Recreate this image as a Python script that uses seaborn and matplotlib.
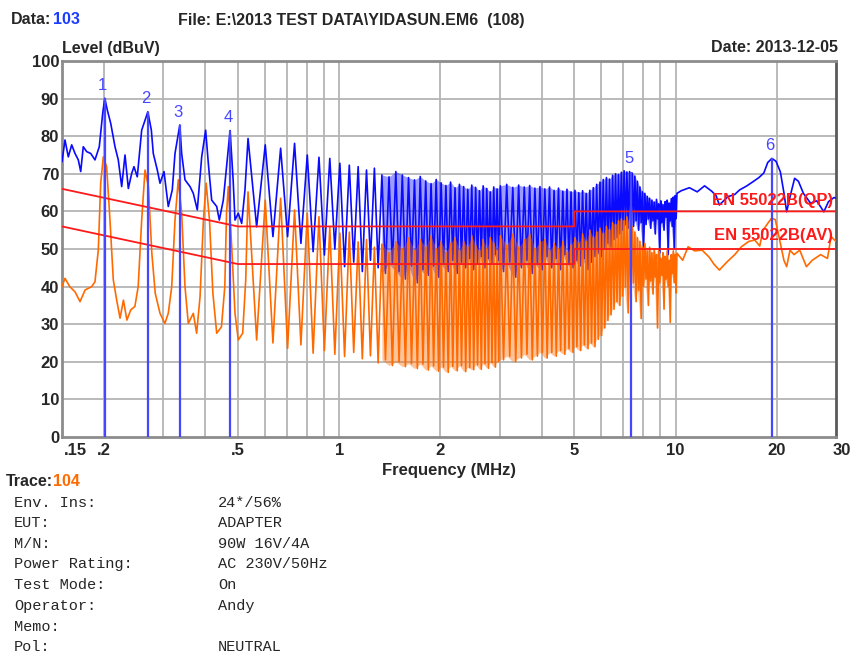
import matplotlib
matplotlib.use("Agg")
import matplotlib.pyplot as plt
import matplotlib.transforms as mtrans
import numpy as np
import pandas as pd
import seaborn as sns

sns.set_style("white")
plt.rcParams["font.family"] = ["Liberation Sans Narrow", "Liberation Sans", "DejaVu Sans"]

# ---- scan data (conducted emission, neutral) ----
# low band, before the harmonics merge: (MHz, dBuV)
QP_LOW_FREQ = [0.150, 0.1531, 0.1566, 0.1603, 0.1640, 0.1677, 0.1705, 0.1735, 0.1776, 0.1826,
               0.1880, 0.1936, 0.1982, 0.2010, 0.2045, 0.2094, 0.2156, 0.2205, 0.2257, 0.2309,
               0.2362, 0.2417, 0.2455, 0.2511, 0.2588, 0.2700, 0.2765, 0.2802, 0.2880, 0.2934,
               0.3015, 0.3105, 0.3191, 0.3251, 0.3360, 0.3403, 0.3481, 0.3603, 0.3685, 0.3787,
               0.3903, 0.4010, 0.4084, 0.4179, 0.4325, 0.4403, 0.4525, 0.4740, 0.4840, 0.4902,
               0.5014, 0.5132, 0.5249]
QP_LOW_LEVEL = [73.2, 79.0, 74.5, 77.7, 75.4, 73.7, 70.6, 77.2, 75.9, 75.4,
                73.7, 77.2, 86.1, 90.1, 87.0, 83.4, 77.2, 73.7, 66.6, 75.0,
                66.1, 70.1, 71.9, 69.2, 81.6, 86.5, 81.6, 75.4, 71.0, 67.5,
                70.6, 61.3, 65.7, 75.4, 83.0, 75.4, 68.4, 66.6, 64.8, 60.4,
                74.5, 81.6, 72.8, 63.0, 61.3, 57.7, 63.0, 81.5, 68.4, 57.7,
                59.5, 56.8, 65.7]
AV_LOW_FREQ = [0.150, 0.1531, 0.1582, 0.1640, 0.1697, 0.1757, 0.1838, 0.1880, 0.1923, 0.1955,
               0.1990, 0.2036, 0.2083, 0.2131, 0.2181, 0.2232, 0.2284, 0.2339, 0.2401, 0.2470,
               0.2527, 0.2588, 0.2648, 0.2710, 0.2774, 0.2840, 0.2934, 0.3033, 0.3105, 0.3179,
               0.3251, 0.3325, 0.3403, 0.3481, 0.3561, 0.3685, 0.3770, 0.3859, 0.3949, 0.4024,
               0.4117, 0.4214, 0.4325, 0.4468, 0.4572, 0.4626, 0.4683, 0.4793, 0.4902, 0.5014,
               0.5167, 0.5276]
AV_LOW_LEVEL = [40.0, 42.2, 40.0, 38.6, 36.0, 39.1, 40.0, 41.3, 49.7, 67.5,
                74.5, 71.9, 57.7, 41.8, 36.4, 31.6, 36.4, 31.1, 33.8, 34.7,
                40.0, 57.7, 71.0, 66.6, 48.9, 38.2, 32.9, 30.2, 32.9, 40.0,
                57.7, 68.4, 59.5, 40.0, 30.2, 32.9, 27.6, 37.3, 57.7, 67.5,
                57.7, 38.2, 27.6, 29.3, 40.0, 59.5, 66.6, 50.6, 32.9, 25.8,
                27.6, 41.8]

# switching harmonics, 0.5 - 10 MHz (every one up to 3 MHz, then every other one)
SW_FREQ = 0.067  # MHz
HARMONICS = list(range(8, 45)) + list(range(45, 150, 2))
QP_HARM_PEAK = [79.4, 77.7, 76.8, 78.1, 75.0, 74.4, 74.1, 72.8, 72.3, 71.9,
                71.0, 71.5, 69.7, 69.2, 70.6, 69.7, 69.0, 68.4, 69.3, 68.1,
                67.4, 68.5, 67.6, 66.9, 67.8, 66.3, 67.2, 66.6, 65.9, 67.0,
                66.4, 65.5, 66.8, 66.1, 65.2, 66.5, 66.0,
                66.8, 67.2, 66.4, 67.0, 66.5, 66.9, 66.2, 66.6, 66.0, 66.5,
                65.6, 66.2, 65.4, 65.9, 65.2, 65.6, 65.0, 65.5, 64.8, 65.6,
                66.3, 67.2, 67.8, 68.5, 69.0, 68.6, 69.6, 70.0, 69.8, 70.4,
                70.8, 70.5, 70.6, 70.2, 69.4, 68.0, 66.5, 65.2, 64.8, 64.0,
                63.5, 63.0, 62.5, 63.2, 62.0, 62.8, 61.8, 62.6, 63.0, 62.2,
                63.4, 63.8, 64.2]
QP_HARM_DIP = [55.9, 53.3, 53.3, 51.5, 49.3, 48.4, 50.0, 45.3, 46.5, 44.0,
               47.0, 45.0, 43.5, 46.0, 44.0, 42.0, 45.5, 41.0, 44.5, 43.0,
               45.5, 42.5, 46.0, 44.0, 47.0, 43.5, 46.5, 45.0, 47.5, 44.5,
               46.0, 48.0, 45.0, 47.5, 46.0, 48.5, 47.0,
               44.0, 46.5, 42.5, 45.0, 47.0, 43.5, 46.0, 44.5, 48.0, 45.0,
               47.5, 44.5, 48.5, 46.0, 45.0, 47.0, 45.5, 47.5, 44.5, 46.5,
               48.0, 49.0, 48.0, 50.0, 51.5, 50.5, 52.5, 53.0, 54.0, 55.0,
               56.5, 55.5, 57.0, 56.0, 57.5, 55.0, 57.0, 50.5, 56.5, 58.0,
               55.5, 57.5, 54.0, 58.0, 49.0, 57.0, 55.0, 58.5, 48.5, 57.5,
               56.0, 50.0, 58.0]
AV_HARM_PEAK = [65.2, 63.0, 63.5, 60.4, 59.5, 58.6, 55.9, 54.2, 54.5, 51.9,
                52.5, 50.5, 51.3, 49.0, 52.0, 50.0, 53.0, 49.5, 52.5, 50.5,
                53.5, 50.0, 52.0, 49.0, 51.5, 53.0, 49.5, 52.0, 50.5, 53.5,
                51.0, 49.5, 52.5, 50.0, 53.0, 51.5, 49.5,
                53.5, 51.0, 54.0, 50.5, 52.5, 54.0, 50.0, 52.0, 52.5, 49.5,
                51.5, 50.0, 52.0, 49.0, 51.0, 53.0, 51.5, 54.0, 52.0, 55.0,
                53.0, 54.5, 55.5, 54.0, 56.0, 55.0, 57.0, 56.5, 57.5, 58.0,
                57.5, 58.5, 57.0, 56.0, 54.5, 53.0, 52.0, 50.5, 51.5, 49.5,
                50.5, 49.0, 50.0, 48.5, 49.5, 47.5, 49.0, 48.0, 49.5, 47.0,
                48.5, 49.5, 48.5]
AV_HARM_DIP = [25.8, 25.0, 23.6, 24.5, 22.3, 23.0, 22.0, 21.4, 22.5, 20.8,
               21.6, 19.7, 20.5, 19.0, 20.0, 18.7, 19.5, 18.2, 19.4, 17.8,
               18.9, 17.5, 18.6, 17.2, 18.8, 17.6, 19.0, 17.4, 18.5, 17.9,
               19.2, 18.0, 19.5, 18.3, 19.8, 18.6, 20.0,
               20.5, 21.5, 20.0, 21.0, 22.0, 20.5, 21.5, 22.5, 21.0, 22.5,
               21.5, 23.0, 22.0, 23.5, 22.5, 24.0, 23.0, 24.5, 23.5, 25.0,
               24.0, 26.0, 27.0, 29.0, 31.0, 32.5, 34.0, 36.0, 35.0, 37.5,
               40.0, 33.0, 38.5, 41.0, 36.0, 39.0, 31.5, 40.0, 42.0, 35.0,
               41.5, 38.0, 42.5, 29.0, 41.0, 43.0, 34.0, 42.0, 40.0, 30.5,
               43.5, 41.0, 44.0]

# above 10 MHz the traces are smooth again
QP_HIGH_FREQ = [10.05, 10.1, 10.4, 11.0, 11.6, 12.2, 12.8, 13.2, 13.5, 14.3,
                15.0, 15.5, 16.3, 17.0, 17.7, 18.3, 18.8, 19.35, 19.9, 20.5,
                21.0, 21.4, 21.9, 22.6, 23.2, 24.0, 25.2, 26.3, 27.6, 28.5,
                29.6, 30.0]
QP_HIGH_LEVEL = [58.6, 64.8, 65.5, 66.3, 65.2, 66.8, 65.4, 64.2, 61.7, 63.9,
                 64.5, 65.7, 66.8, 67.9, 69.0, 70.2, 73.0, 74.1, 73.3, 70.5,
                 65.0, 59.9, 63.9, 68.8, 68.0, 64.8, 62.2, 62.8, 59.9, 62.6,
                 63.7, 63.5]
AV_HIGH_FREQ = [10.05, 10.1, 10.5, 10.9, 11.4, 12.0, 12.6, 13.0, 13.5, 14.2,
                15.0, 15.7, 16.5, 17.2, 17.8, 18.2, 18.8, 19.3, 19.8, 20.3,
                21.0, 21.4, 21.9, 22.5, 23.4, 24.5, 25.5, 27.0, 28.3, 29.0,
                30.0]
AV_HIGH_LEVEL = [38.3, 48.9, 47.0, 50.6, 49.5, 49.7, 47.8, 46.0, 44.4, 46.5,
                 48.5, 50.6, 52.0, 52.4, 50.8, 55.0, 56.8, 58.2, 57.8, 53.3,
                 47.0, 45.3, 49.7, 48.5, 49.7, 45.3, 47.0, 48.5, 47.5, 53.3,
                 52.0]

# EN 55022 class B limits
LIMIT_FREQ = [0.15, 0.5, 5, 5, 30]
QP_LIMIT = [66, 56, 56, 60, 60]
AV_LIMIT = [56, 46, 46, 50, 50]

MARKER_FREQ = [0.201, 0.270, 0.336, 0.474, 7.37, 19.35]
MARKER_LEVEL = [90.1, 86.5, 83.0, 81.5, 70.6, 74.1]
MARKER_NAMES = ["1", "2", "3", "4", "5", "6"]

X_TICKS = [0.15, 0.2, 0.5, 1, 2, 5, 10, 20, 30]
X_TICK_LABELS = [".15", ".2", ".5", "1", "2", "5", "10", "20", "30"]
X_GRID = [0.2, 0.3, 0.4, 0.5, 0.6, 0.7, 0.8, 0.9, 1, 2, 3, 4, 5, 6, 7, 8, 9, 10, 20]
Y_TICKS = list(range(0, 101, 10))

INFO_LABELS = ["Env. Ins:", "EUT:", "M/N:", "Power Rating:", "Test Mode:",
               "Operator:", "Memo:", "Pol:"]
INFO_VALUES = ["24*/56%", "ADAPTER", "90W 16V/4A", "AC 230V/50Hz", "On",
               "Andy", "", "NEUTRAL"]

QP_COLOR = "#0a0aff"
AV_COLOR = "#ff6a00"
LIMIT_COLOR = "#ff1a1a"
MARKER_COLOR = "#4646ff"
GRID_COLOR = "#b4b4b4"
W, H = 850, 655
DENSE_FROM = 20  # harmonic index where the scan turns into a near-solid band


def build_trace(low_f, low_l, peaks, dips, high_f, high_l):
    freqs, levels = list(low_f), list(low_l)
    nxt = HARMONICS[1:] + [HARMONICS[-1] + 1]
    for n, m, pk, dp in zip(HARMONICS, nxt, peaks, dips):
        freqs += [n * SW_FREQ, np.sqrt(n * m) * SW_FREQ]
        levels += [pk, dp]
    freqs += high_f
    levels += high_l
    return pd.DataFrame({"freq": freqs, "level": levels})


def band(peaks, dips):
    rows = [(n * SW_FREQ, pk, dp) for n, pk, dp in zip(HARMONICS, peaks, dips) if n >= DENSE_FROM]
    return pd.DataFrame(rows, columns=["freq", "top", "bottom"])


def px(x, y):
    return x / W, 1 - y / H


qp = build_trace(QP_LOW_FREQ, QP_LOW_LEVEL, QP_HARM_PEAK, QP_HARM_DIP, QP_HIGH_FREQ, QP_HIGH_LEVEL)
av = build_trace(AV_LOW_FREQ, AV_LOW_LEVEL, AV_HARM_PEAK, AV_HARM_DIP, AV_HIGH_FREQ, AV_HIGH_LEVEL)
qp_band = band(QP_HARM_PEAK, QP_HARM_DIP)
av_band = band(AV_HARM_PEAK, AV_HARM_DIP)
limits = pd.DataFrame({"freq": LIMIT_FREQ, "qp": QP_LIMIT, "av": AV_LIMIT})

fig = plt.figure(figsize=(W / 100, H / 100), dpi=100)
ax = fig.add_axes([62 / W, 1 - 437 / H, (836 - 62) / W, (437 - 61) / H])
ax.set_xscale("log")

# pale fill where the harmonics crowd together
ax.fill_between(qp_band["freq"], qp_band["bottom"], qp_band["top"], color=QP_COLOR,
                alpha=0.4, linewidth=0, zorder=2)
sns.lineplot(data=qp, x="freq", y="level", color=QP_COLOR, linewidth=1.2,
             estimator=None, sort=False, ax=ax, zorder=3)
ax.fill_between(av_band["freq"], av_band["bottom"], av_band["top"], color=AV_COLOR,
                alpha=0.4, linewidth=0, zorder=3.5)
sns.lineplot(data=av, x="freq", y="level", color=AV_COLOR, linewidth=1.2,
             estimator=None, sort=False, ax=ax, zorder=4)
sns.lineplot(data=limits, x="freq", y="qp", color=LIMIT_COLOR, linewidth=1.3,
             estimator=None, sort=False, ax=ax, zorder=5)
sns.lineplot(data=limits, x="freq", y="av", color=LIMIT_COLOR, linewidth=1.3,
             estimator=None, sort=False, ax=ax, zorder=5)

ax.vlines(MARKER_FREQ, 0, MARKER_LEVEL, color=MARKER_COLOR, linewidth=1.6, zorder=6)
for f, lv, name in zip(MARKER_FREQ, MARKER_LEVEL, MARKER_NAMES):
    ax.text(f * 0.985, lv + 3.4, name, color=MARKER_COLOR, fontsize=12,
            ha="center", va="center", family="Liberation Sans", zorder=7)

ax.text(29.4, 63.0, "EN 55022B(QP)", color=LIMIT_COLOR, fontsize=12, fontweight="bold",
        ha="right", va="center", zorder=7)
ax.text(29.4, 53.5, "EN 55022B(AV)", color=LIMIT_COLOR, fontsize=12, fontweight="bold",
        ha="right", va="center", zorder=7)

ax.set_xlim(0.15, 30)
ax.set_ylim(0, 100)
ax.set_xticks(X_TICKS)
ax.set_xticklabels(X_TICK_LABELS)
ax.set_xticks(X_GRID, minor=True)
ax.set_yticks(Y_TICKS)
ax.tick_params(axis="both", which="both", length=0, labelsize=12)
ax.tick_params(axis="x", pad=4)
ax.tick_params(axis="y", pad=2)
for lab in ax.get_xticklabels() + ax.get_yticklabels():
    lab.set_fontweight("bold")
# end labels sit a little inward / outward like the original
xlabels = ax.get_xticklabels()
xlabels[0].set_transform(xlabels[0].get_transform()
                         + mtrans.ScaledTranslation(13 / 100, 0, fig.dpi_scale_trans))
xlabels[-1].set_transform(xlabels[-1].get_transform()
                          + mtrans.ScaledTranslation(6 / 100, 0, fig.dpi_scale_trans))
ax.grid(False)
for f in X_GRID:
    ax.axvline(f, color=GRID_COLOR, linewidth=1.3, zorder=1)
for y in Y_TICKS[1:-1]:
    ax.axhline(y, color=GRID_COLOR, linewidth=1.3, zorder=1)
for side in ax.spines.values():
    side.set_color("#8c8c8c")
    side.set_linewidth(2)
ax.spines["right"].set_color("#5a5a5a")
ax.set_xlabel("Frequency (MHz)", fontsize=12, fontweight="bold", labelpad=4)
ax.set_ylabel("")

# header
fig.text(*px(11, 20), "Data:", fontsize=11.5, fontweight="bold", va="center")
fig.text(*px(53, 20), "103", fontsize=11.5, fontweight="bold", color="#1a3cff", va="center")
fig.text(*px(178, 20), "File: E:\\2013 TEST DATA\\YIDASUN.EM6  (108)", fontsize=11.5,
         fontweight="bold", va="center")
fig.text(*px(62, 48), "Level (dBuV)", fontsize=11.5, fontweight="bold", va="center")
fig.text(*px(838, 48), "Date: 2013-12-05", fontsize=11.5, fontweight="bold", va="center",
         ha="right")

# footer
fig.text(*px(6, 481), "Trace:", fontsize=11.5, fontweight="bold", va="center")
fig.text(*px(53, 481), "104", fontsize=11.5, fontweight="bold", color=AV_COLOR, va="center")
rows_y = [503, 523, 544, 564, 585, 606, 627, 647]
for y, lab, val in zip(rows_y, INFO_LABELS, INFO_VALUES):
    fig.text(*px(14, y), lab, fontsize=11, family="Liberation Mono", va="center")
    fig.text(*px(218, y), val, fontsize=11, family="Liberation Mono", va="center")

fig.savefig("out.png", dpi=100, facecolor="white")
